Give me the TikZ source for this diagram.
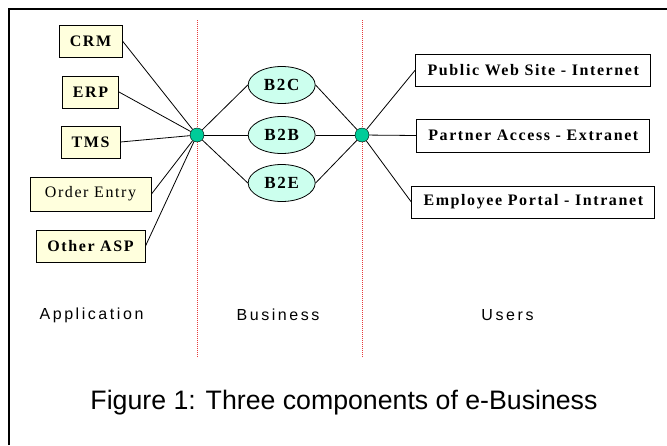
\documentclass[tikz,border=0pt]{standalone}
\usepackage{fontspec}
\usetikzlibrary{positioning,shapes.geometric}
\newfontfamily\boxfont[LetterSpace=10]{Liberation Serif}
\newfontfamily\colfont[LetterSpace=16]{Liberation Sans}
\newfontfamily\capfont{Liberation Sans}
\definecolor{appyellow}{RGB}{255,255,221}
\definecolor{bizmint}{RGB}{204,255,238}
\definecolor{hubgreen}{RGB}{0,204,153}
\definecolor{lanered}{RGB}{230,60,60}

\begin{document}
\begin{tikzpicture}[x=1pt,y=1pt,
    appbox/.style={draw, line width=1pt, fill=appyellow, minimum height=32pt, inner sep=0pt,
        font=\boxfont\bfseries\fontsize{16}{19}\selectfont},
    userbox/.style={draw, line width=1pt, fill=white, minimum height=32pt, inner sep=0pt,
        font=\boxfont\bfseries\fontsize{16}{19}\selectfont},
    bizell/.style={draw, ellipse, line width=0.8pt, fill=bizmint, minimum width=67pt, minimum height=37pt,
        inner sep=0pt, font=\boxfont\bfseries\fontsize{17}{20}\selectfont},
    hub/.style={draw, circle, fill=hubgreen, minimum size=14pt, inner sep=0pt},
    link/.style={line width=0.8pt},
    lane/.style={draw=lanered, densely dotted, line width=1pt},
    colname/.style={font=\colfont\fontsize{16}{19}\selectfont}]
    \useasboundingbox (0,0) rectangle (667,-445);
    \draw[line width=2pt] (9,-445) -- (9,-9) -- (667,-9);

    % lanes
    \coordinate (lane1top) at (197,-20);
    \coordinate (lane1bot) at (197,-358);
    \coordinate (lane2top) at (362,-20);
    \coordinate (lane2bot) at (362,-358);
    \draw[lane] (lane1top) -- (lane1bot);
    \draw[lane] (lane2top) -- (lane2bot);

    % applications
    \node[appbox, minimum width=63pt] (crm) at (90.5,-41) {CRM};
    \node[appbox, minimum width=56pt, below of=crm, node distance=51pt] (erp) {ERP};
    \node[appbox, minimum width=59pt, below of=erp, node distance=50pt] (tms) {TMS};
    \node[appbox, minimum width=121pt, minimum height=34pt, font=\boxfont\fontsize{16}{19}\selectfont,
        below of=tms, node distance=52pt] (order) {Order Entry};
    \node[appbox, minimum width=109pt, below of=order, node distance=52pt] (asp) {Other ASP};

    % hubs and business
    \node[hub] (apphub) at (197,-135) {};
    \node[hub] (userhub) at (362,-135) {};
    \node[bizell] (b2b) at (281.7,-135) {B2B};
    \node[bizell, above of=b2b, node distance=50pt] (b2c) {B2C};
    \node[bizell, below of=b2b, node distance=48pt] (b2e) {B2E};

    % users
    \node[userbox, minimum width=235pt] (web) at (533.3,-70) {Public Web Site - Internet};
    \node[userbox, minimum width=233pt, minimum height=33pt, below of=web, node distance=65.5pt] (partner) {Partner Access - Extranet};
    \node[userbox, minimum width=243pt, below of=partner, node distance=66.5pt] (portal) {Employee Portal - Intranet};

    \foreach \n in {crm,erp,tms,order,asp}
        \draw[link] (apphub) -- (\n.east);
    \foreach \n in {b2c,b2b,b2e} {
        \draw[link] (apphub) -- (\n.west);
        \draw[link] (\n.east) -- (userhub);
    }
    \foreach \n in {web,partner,portal}
        \draw[link] (userhub) -- (\n.west);

    % column names and caption
    \node[colname] (applbl) at (91.5,-315) {Application};
    \node[colname] (bizlbl) at (278,-315) {Business};
    \node[colname] (userlbl) at (507.5,-315) {Users};
    \node[font=\capfont\fontsize{26.7}{32}\selectfont] (caption) at (344,-403) {Figure 1: Three components of e-Business};
\end{tikzpicture}
\end{document}
